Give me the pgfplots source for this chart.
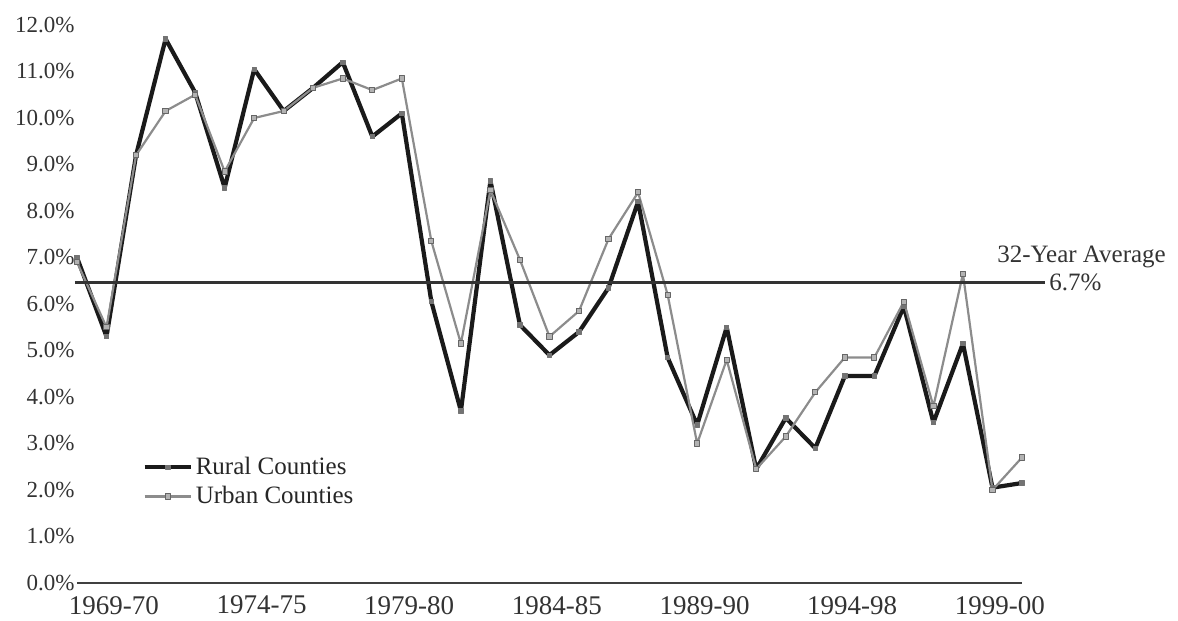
\documentclass[border=0pt]{standalone}
\usepackage{pgfplots}
\pgfplotsset{compat=1.18}
\usepackage{fontspec}
\setmainfont{Liberation Serif}

\definecolor{rural}{HTML}{1A1A1A}
\definecolor{urban}{HTML}{8C8C8C}

% index 0 = 1968-69 ... 32 = 2000-01
\pgfplotstableread{
idx rural urban
0  7.00 6.90
1  5.30 5.50
2  9.20 9.20
3  11.70 10.15
4  10.55 10.50
5  8.50 8.85
6  11.05 10.00
7  10.15 10.15
8  10.65 10.65
9  11.20 10.85
10 9.60 10.60
11 10.10 10.85
12 6.05 7.35
13 3.70 5.15
14 8.65 8.45
15 5.55 6.95
16 4.90 5.30
17 5.40 5.85
18 6.35 7.40
19 8.20 8.40
20 4.85 6.20
21 3.40 3.00
22 5.50 4.80
23 2.45 2.45
24 3.55 3.15
25 2.90 4.10
26 4.45 4.85
27 4.45 4.85
28 5.95 6.05
29 3.45 3.80
30 5.15 6.65
31 2.05 2.00
32 2.15 2.70
}\growth

\begin{document}
\begin{tikzpicture}
\path[use as bounding box] (-38.5pt,-19pt) rectangle (550.5pt,291.5pt);
\begin{axis}[
    at={(0,0)}, anchor=south west,
    scale only axis, width=472.5pt, height=279pt,
    xmin=0, xmax=32, ymin=0, ymax=12,
    axis x line*=bottom, axis y line*=left,
    y axis line style={draw=none},
    x axis line style={black!75, line width=1pt},
    major tick length=0pt,
    xtick={1.25,6.25,11.25,16.25,21.25,26.25,31.25},
    xticklabels={1969-70,1974-75,1979-80,1984-85,1989-90,1994-98,1999-00},
    x tick label style={font=\fontsize{13.5}{14}\selectfont, text=black!80, yshift=-3pt},
    ytick={0,1,...,12},
    yticklabel={\pgfmathprintnumber[fixed,fixed zerofill,precision=1]{\tick}\%},
    y tick label style={font=\fontsize{11.5}{12}\selectfont, text=black!80, inner sep=1pt},
    /pgf/number format/assume math mode=true,
    clip=false,
    legend cell align=left,
    legend style={at={(0.069,0.232)}, anchor=north west, draw=none, fill=none,
        font=\fontsize{12.5}{13}\selectfont, inner sep=0pt, row sep=1.5pt,
        nodes={inner sep=1.5pt, text=black!85}},
    legend image code/.code={
        \draw[mark repeat=2,mark phase=2,#1] plot coordinates {(0pt,0pt) (11.5pt,0pt) (23pt,0pt)};},
]
\addplot[rural, line width=2.1pt, line join=round, mark=square*, mark size=1.1pt,
    mark options={fill=black!55, draw=black!55, line width=0.4pt}]
    table[x=idx, y=rural] {\growth};
\addlegendentry{Rural Counties}
\addplot[urban, line width=1.1pt, line join=round, mark=square*, mark size=1.3pt,
    mark options={fill=black!30, draw=black!60, line width=0.5pt}]
    table[x=idx, y=urban] {\growth};
\addlegendentry{Urban Counties}

% 32-year average line
\addplot[black!80, line width=1.4pt, forget plot] coordinates {(-0.07,6.47) (32.78,6.47)};
\node[anchor=west, inner sep=2pt, font=\fontsize{12.5}{13}\selectfont, text=black!80]
    at (axis cs:32.78,6.47) {6.7\%};
\node[anchor=base west, inner sep=0pt, font=\fontsize{12.5}{13}\selectfont, text=black!80]
    at (axis cs:31.15,6.9) {32-Year Average};
\end{axis}
\end{tikzpicture}
\end{document}
